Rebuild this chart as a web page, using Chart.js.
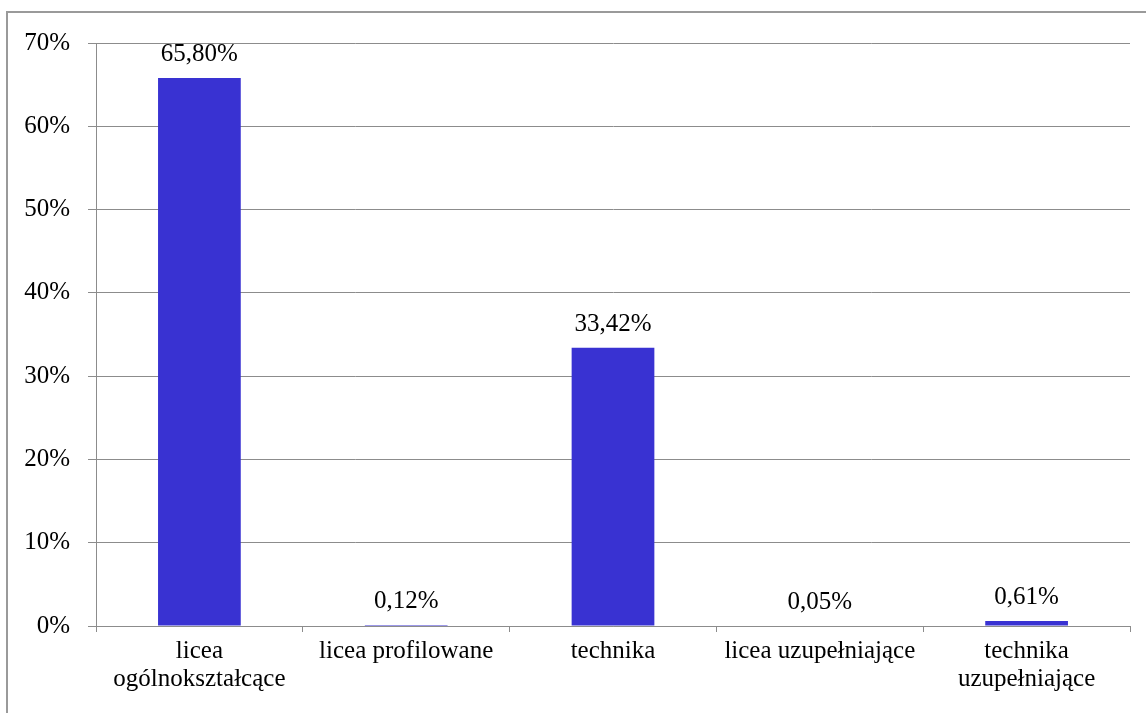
<!DOCTYPE html>
<html lang="pl">
<head>
<meta charset="utf-8">
<title>Struktura uczniów</title>
<script src="https://cdn.jsdelivr.net/npm/chart.js@4"></script>
<style>
  html, body { margin: 0; padding: 0; background: #fff; overflow: hidden; }
  #wrap { position: relative; width: 1146px; height: 713px; }
  #frame { position: absolute; left: 6px; top: 11px; width: 1160px; height: 720px;
           border: 2px solid #9a9a9a; box-sizing: border-box; pointer-events: none; }
  canvas { position: absolute; left: 0; top: 0; }
</style>
</head>
<body>
<div id="wrap">
  <div id="frame"></div>
  <canvas id="chart" width="1146" height="713"></canvas>
</div>
<script>
// kategorie szkół i udział (%)
var categories = [
  ['licea', 'ogólnokształcące'],
  'licea profilowane',
  'technika',
  'licea uzupełniające',
  ['technika', 'uzupełniające']
];
var shares = [65.80, 0.12, 33.42, 0.05, 0.61];
var yTicks = [0, 10, 20, 30, 40, 50, 60, 70];

var FONT = '"Liberation Serif", "Times New Roman", serif';

// etykiety wartości nad słupkami, z przecinkiem dziesiętnym
var valueLabels = {
  id: 'valueLabels',
  afterDatasetsDraw: function (chart) {
    var ctx = chart.ctx;
    var meta = chart.getDatasetMeta(0);
    ctx.save();
    ctx.font = '25px ' + FONT;
    ctx.fillStyle = '#000';
    ctx.textAlign = 'center';
    ctx.textBaseline = 'alphabetic';
    meta.data.forEach(function (bar, i) {
      var txt = shares[i].toFixed(2).replace('.', ',') + '%';
      ctx.fillText(txt, bar.x, bar.y - 17);
    });
    ctx.restore();
  }
};

new Chart(document.getElementById('chart').getContext('2d'), {
  type: 'bar',
  data: {
    labels: categories,
    datasets: [{
      data: shares,
      backgroundColor: '#3932d2',
      borderWidth: 0,
      categoryPercentage: 1,
      barPercentage: 0.4
    }]
  },
  options: {
    responsive: false,
    animation: false,
    layout: { padding: { left: 0, right: 16, top: 43, bottom: 0 } },
    plugins: { legend: { display: false }, tooltip: { enabled: false } },
    scales: {
      x: {
        afterFit: function (s) { s.height = 87; },
        grid: { display: true, drawOnChartArea: false, offset: true, tickLength: 6, color: '#8c8c8c' },
        border: { color: '#8c8c8c', width: 1 },
        ticks: { color: '#000', font: { family: FONT, size: 25, lineHeight: 1.12 }, padding: 5, maxRotation: 0, autoSkip: false }
      },
      y: {
        min: 0,
        max: 70,
        afterFit: function (s) { s.width = 96; },
        afterBuildTicks: function (s) { s.ticks = yTicks.map(function (v) { return { value: v }; }); },
        grid: { color: '#8c8c8c', tickLength: 8 },
        border: { color: '#8c8c8c', width: 1 },
        ticks: {
          color: '#000',
          font: { family: FONT, size: 25 },
          padding: 18,
          callback: function (v) { return v + '%'; }
        }
      }
    }
  },
  plugins: [valueLabels]
});
</script>
</body>
</html>
